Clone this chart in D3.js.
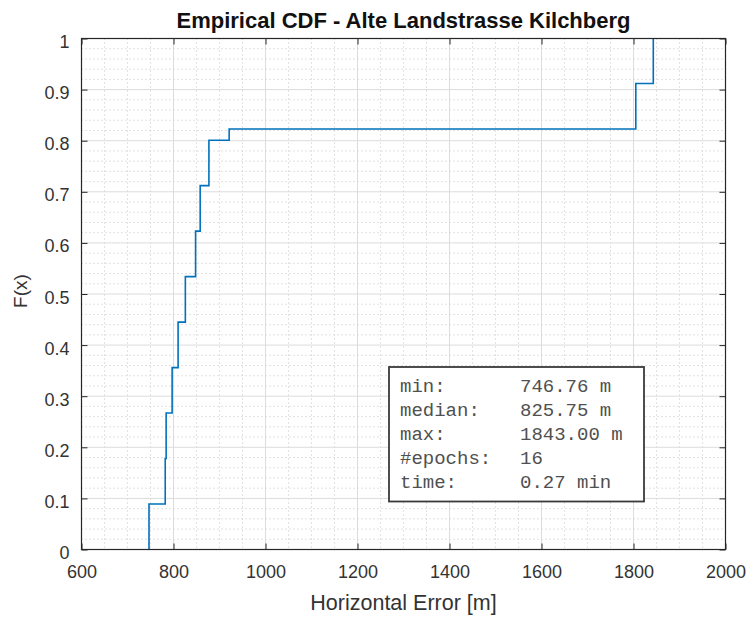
<!DOCTYPE html>
<html>
<head>
<meta charset="utf-8">
<script src="https://cdn.jsdelivr.net/npm/d3@7"></script>
<style>
  html, body { margin: 0; padding: 0; background: #ffffff; }
  svg { display: block; }
</style>
</head>
<body>
<svg id="chart" width="753" height="617"></svg>
<script>
// Empirical CDF steps: horizontal error (m) where F(x) jumps, and the level after each jump
const stepX = [746.76, 782, 784, 797, 810, 825.75, 848, 858, 877, 921, 1805, 1843];
const stepF = [0.089, 0.178, 0.267, 0.356, 0.445, 0.534, 0.623, 0.712, 0.801, 0.823, 0.912, 1.0];

// Axis ticks
const xTicks = [600, 800, 1000, 1200, 1400, 1600, 1800, 2000];
const yTicks = [0, 0.1, 0.2, 0.3, 0.4, 0.5, 0.6, 0.7, 0.8, 0.9, 1];
const yTickLabels = ["0", "0.1", "0.2", "0.3", "0.4", "0.5", "0.6", "0.7", "0.8", "0.9", "1"];

// Summary box lines
const statLabels = ["min:", "median:", "max:", "#epochs:", "time:"];
const statValues = ["746.76 m", "825.75 m", "1843.00 m", "16", "0.27 min"];

const titleText = "Empirical CDF - Alte Landstrasse Kilchberg";
const xLabel = "Horizontal Error [m]";
const yLabel = "F(x)";

const sans = "'Liberation Sans', Arial, Helvetica, sans-serif";
const mono = "'Liberation Mono', 'Courier New', monospace";

const svg = d3.select("#chart");
const plot = { left: 81.5, right: 725.5, top: 38.5, bottom: 549.5 };

const x = d3.scaleLinear().domain([600, 2000]).range([plot.left, plot.right]);
const y = d3.scaleLinear().domain([0, 1]).range([plot.bottom, plot.top]);

const axisColor = "#262626";

// Minor grid (dotted)
const xMinor = d3.range(600, 2000.1, 50).filter(v => v % 200 !== 0);
const yMinor = d3.range(0, 1.0001, 0.02).map(v => +v.toFixed(2)).filter(v => Math.round(v * 100) % 10 !== 0);

const grid = svg.append("g");
grid.selectAll("line.xminor").data(xMinor).join("line")
  .attr("x1", d => x(d)).attr("x2", d => x(d))
  .attr("y1", plot.top).attr("y2", plot.bottom)
  .attr("stroke", "#c4c4c4").attr("stroke-width", 1)
  .attr("stroke-dasharray", "1,3");
grid.selectAll("line.yminor").data(yMinor).join("line")
  .attr("y1", d => y(d)).attr("y2", d => y(d))
  .attr("x1", plot.left).attr("x2", plot.right)
  .attr("stroke", "#c4c4c4").attr("stroke-width", 1)
  .attr("stroke-dasharray", "1,3");

// Major grid (solid)
grid.selectAll("line.xmajor").data(xTicks).join("line")
  .attr("x1", d => x(d)).attr("x2", d => x(d))
  .attr("y1", plot.top).attr("y2", plot.bottom)
  .attr("stroke", "#dcdcdc").attr("stroke-width", 1);
grid.selectAll("line.ymajor").data(yTicks).join("line")
  .attr("y1", d => y(d)).attr("y2", d => y(d))
  .attr("x1", plot.left).attr("x2", plot.right)
  .attr("stroke", "#dcdcdc").attr("stroke-width", 1);

// ECDF staircase
const pts = [[stepX[0], 0]].concat(stepX.map((v, i) => [v, stepF[i]]));
const line = d3.line().x(d => x(d[0])).y(d => y(d[1])).curve(d3.curveStepAfter);
svg.append("path")
  .datum(pts)
  .attr("d", line)
  .attr("fill", "none")
  .attr("stroke", "#0072BD")
  .attr("stroke-width", 1.6);

// Axes with inward ticks on all four sides
const tickLen = 6;
const gBottom = svg.append("g").attr("transform", `translate(0,${plot.bottom})`)
  .call(d3.axisBottom(x).tickValues(xTicks).tickFormat(d3.format("d")).tickSizeInner(-tickLen).tickSizeOuter(0).tickPadding(16));
const gLeft = svg.append("g").attr("transform", `translate(${plot.left},0)`)
  .call(d3.axisLeft(y).tickValues(yTicks).tickFormat((d, i) => yTickLabels[i]).tickSizeInner(-tickLen).tickSizeOuter(0).tickPadding(12));
const gTop = svg.append("g").attr("transform", `translate(0,${plot.top})`)
  .call(d3.axisTop(x).tickValues(xTicks).tickFormat("").tickSizeInner(-tickLen).tickSizeOuter(0));
const gRight = svg.append("g").attr("transform", `translate(${plot.right},0)`)
  .call(d3.axisRight(y).tickValues(yTicks).tickFormat("").tickSizeInner(-tickLen).tickSizeOuter(0));

[gBottom, gLeft, gTop, gRight].forEach(g => {
  g.select(".domain").remove();
  g.selectAll(".tick line").attr("stroke", axisColor).attr("stroke-width", 1);
  g.selectAll(".tick text")
    .attr("fill", "#333333")
    .style("font-family", sans)
    .style("font-size", "18px");
});
gLeft.selectAll(".tick text").attr("dy", "0.5em");

// Axes box
svg.append("rect")
  .attr("x", plot.left).attr("y", plot.top)
  .attr("width", plot.right - plot.left).attr("height", plot.bottom - plot.top)
  .attr("fill", "none").attr("stroke", axisColor).attr("stroke-width", 1.2);

// Title and axis labels
svg.append("text")
  .attr("x", (plot.left + plot.right) / 2).attr("y", 28)
  .attr("text-anchor", "middle")
  .attr("fill", "#111111")
  .style("font-family", sans)
  .style("font-size", "22px").style("font-weight", "bold")
  .text(titleText);

svg.append("text")
  .attr("x", (plot.left + plot.right) / 2).attr("y", 610)
  .attr("text-anchor", "middle")
  .attr("fill", "#333333")
  .style("font-family", sans)
  .style("font-size", "21.5px")
  .text(xLabel);

svg.append("text")
  .attr("transform", `translate(27,291) rotate(-90)`)
  .attr("text-anchor", "middle")
  .attr("fill", "#333333")
  .style("font-family", sans)
  .style("font-size", "19px")
  .text(yLabel);

// Summary statistics box
const box = { x: 389, y: 367, w: 255, h: 134.5 };
svg.append("rect")
  .attr("x", box.x).attr("y", box.y).attr("width", box.w).attr("height", box.h)
  .attr("fill", "#ffffff").attr("stroke", "#3a3a3a").attr("stroke-width", 1.8);

const stats = svg.append("g");
stats.selectAll("text.lab").data(statLabels).join("text")
  .attr("class", "lab")
  .attr("x", box.x + 11).attr("y", (d, i) => 392 + i * 24)
  .attr("fill", "#505050")
  .style("font-family", mono).style("font-size", "19px")
  .text(d => d);
stats.selectAll("text.val").data(statValues).join("text")
  .attr("class", "val")
  .attr("x", box.x + 131).attr("y", (d, i) => 392 + i * 24)
  .attr("fill", "#505050")
  .style("font-family", mono).style("font-size", "19px")
  .text(d => d);
</script>
</body>
</html>
